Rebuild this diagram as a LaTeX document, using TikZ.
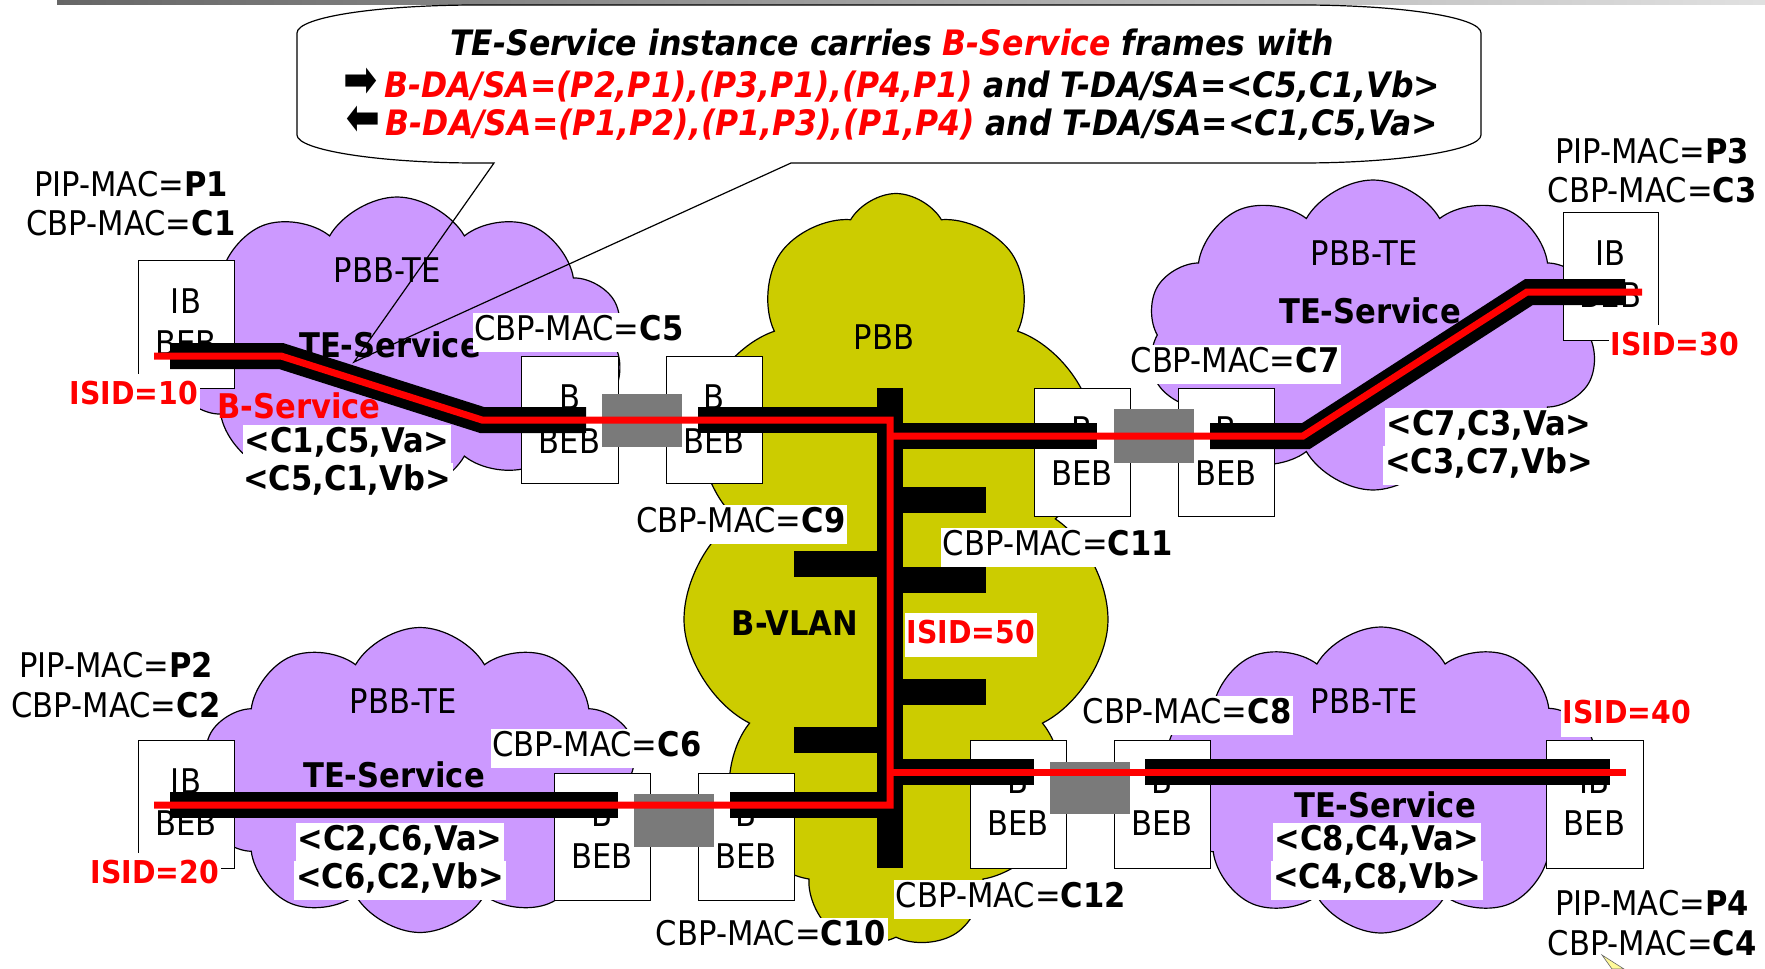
\documentclass[tikz,border=0pt]{standalone}
\usepackage{fontspec}
\setmainfont{DejaVu Sans}[FakeStretch=0.9]
\usepackage{graphicx}
\usetikzlibrary{shapes.symbols}
\definecolor{lav}{HTML}{CC99FF}
\definecolor{pbbc}{HTML}{CCCC00}
\definecolor{gbox}{HTML}{7A7A7A}
\definecolor{rd}{HTML}{FF0000}
\newcommand{\rarr}{{\upshape\mdseries\scalebox{1.3}[1.5]{➡}}}
\newcommand{\larr}{{\upshape\mdseries\reflectbox{\scalebox{1.3}[1.5]{➡}}}}
\begin{document}
\begin{tikzpicture}[x=1pt,y=-1pt,
  every node/.style={inner sep=0pt},
  cl/.style={cloud, cloud puffs=10, cloud puff arc=120, cloud ignores aspect, draw=black, line width=1.2pt, fill=lav},
  bx/.style={draw=black, line width=1pt, fill=white},
  lk/.style={fill=gbox, draw=none},
  t/.style={font=\fontsize{34}{40}\selectfont, anchor=base, inner xsep=2pt, inner ysep=0pt},
  tb/.style={t, font=\fontsize{34}{40}\selectfont\bfseries},
  wt/.style={t, fill=white, text height=27pt, text depth=11pt, inner ysep=0.5pt},
  wtb/.style={wt, font=\fontsize{34}{40}\selectfont\bfseries},
  isid/.style={wt, text=rd, font=\fontsize{31.5}{38}\selectfont\bfseries, inner ysep=3pt},
  ct/.style={font=\fontsize{35}{40}\selectfont\bfseries\itshape, anchor=base},
  bar/.style={line width=26pt, black, line join=miter},
  redl/.style={line width=7pt, rd, line join=miter},
]
\useasboundingbox (0,0) rectangle (1765,969);
\shade[left color=black!60, right color=black!12] (57,0) rectangle (1765,4);

% clouds
\node[cl, fill=pbbc, cloud puffs=11, minimum width=428pt, minimum height=755pt] (cPBB) at (896,571) {};
\node[cl, minimum width=456pt, minimum height=298pt] (cTL) at (397,346) {};
\node[cl, minimum width=454pt, minimum height=310pt] (cTR) at (1373,335) {};
\node[cl, minimum width=440pt, minimum height=305pt] (cBL) at (420,780) {};
\node[cl, minimum width=438pt, minimum height=306pt] (cBR) at (1381,780) {};

% boxes
\node[bx, minimum width=96pt, minimum height=128pt] (bP1) at (186,324) {};
\node[bx, minimum width=97pt, minimum height=127pt] (bC5L) at (569.5,419.5) {};
\node[bx, minimum width=96pt, minimum height=127pt] (bC5R) at (714,419.5) {};
\node[bx, minimum width=96pt, minimum height=128pt] (bC7L) at (1082,452) {};
\node[bx, minimum width=96pt, minimum height=128pt] (bC7R) at (1226,452) {};
\node[bx, minimum width=95pt, minimum height=128pt] (bP3) at (1610.5,276) {};
\node[bx, minimum width=96pt, minimum height=128pt] (bP2) at (186,804) {};
\node[bx, minimum width=96pt, minimum height=127pt] (bC6L) at (602,836.5) {};
\node[bx, minimum width=96pt, minimum height=127pt] (bC6R) at (746,836.5) {};
\node[bx, minimum width=96pt, minimum height=128pt] (bC8L) at (1018,804) {};
\node[bx, minimum width=96pt, minimum height=128pt] (bC8R) at (1162,804) {};
\node[bx, minimum width=97pt, minimum height=128pt] (bP4) at (1594.5,804) {};

% box texts
\node[t] (xP1a) at (186,313) {IB};   \node[t] (xP1b) at (186,355) {BEB};
\node[t] (xC5La) at (569.5,409) {B}; \node[t] (xC5Lb) at (569.5,453) {BEB};
\node[t] (xC5Ra) at (714,409) {B};   \node[t] (xC5Rb) at (714,453) {BEB};
\node[t] (xC7La) at (1082,441) {B};  \node[t] (xC7Lb) at (1082,485) {BEB};
\node[t] (xC7Ra) at (1226,441) {B};  \node[t] (xC7Rb) at (1226,485) {BEB};
\node[t] (xP3a) at (1610.5,265) {IB}; \node[t] (xP3b) at (1610.5,307) {BEB};
\node[t] (xP2a) at (186,793) {IB};   \node[t] (xP2b) at (186,835) {BEB};
\node[t] (xC6La) at (602,826) {B};   \node[t] (xC6Lb) at (602,868) {BEB};
\node[t] (xC6Ra) at (746,826) {B};   \node[t] (xC6Rb) at (746,868) {BEB};
\node[t] (xC8La) at (1018,793) {B};  \node[t] (xC8Lb) at (1018,835) {BEB};
\node[t] (xC8Ra) at (1162,793) {B};  \node[t] (xC8Rb) at (1162,835) {BEB};
\node[t] (xP4a) at (1594.5,793) {IB}; \node[t] (xP4b) at (1594.5,835) {BEB};

% links
\node[lk, minimum width=80pt, minimum height=53pt] (g1) at (642,420.5) {};
\node[lk, minimum width=80pt, minimum height=54pt] (g2) at (1154,436) {};
\node[lk, minimum width=80pt, minimum height=53pt] (g3) at (674,820.5) {};
\node[lk, minimum width=80pt, minimum height=52pt] (g4) at (1090,788) {};

% labels
\node[t] (lP1) at (131,196) {PIP-MAC=\textbf{P1}};
\node[t] (lC1) at (131,235) {CBP-MAC=\textbf{C1}};
\node[t] (lTL1) at (387,282) {PBB-TE};
\node[tb] (lTL2) at (390,357) {TE-Service};
\node[wt] (lC5) at (579,340) {CBP-MAC=\textbf{C5}};
\node[isid] (i10) at (134,404) {ISID=10};
\node[tb, text=rd] (lBS) at (299,418) {B-Service};
\node[wtb] (lTL3) at (347,452) {<C1,C5,Va>};
\node[wtb] (lTL4) at (347,490) {<C5,C1,Vb>};
\node[t] (lPBB) at (884,349) {PBB};
\node[wt] (lC9) at (741,532) {CBP-MAC=\textbf{C9}};
\node[tb] (lBV) at (795,635) {B-VLAN};
\node[isid] (i50) at (971,643) {ISID=50};
\node[wt] (lC11) at (1058,555) {CBP-MAC=\textbf{C11}};
\node[wt] (lC7) at (1235,372) {CBP-MAC=\textbf{C7}};
\node[t] (lTR1) at (1364,265) {PBB-TE};
\node[tb] (lTR2) at (1370,323) {TE-Service};
\node[t] (lP3) at (1652,163) {PIP-MAC=\textbf{P3}};
\node[t] (lC3) at (1652,202) {CBP-MAC=\textbf{C3}};
\node[isid] (i30) at (1675,355) {ISID=30};
\node[wtb] (lTR3) at (1489,435) {<C7,C3,Va>};
\node[wtb] (lTR4) at (1489,473) {<C3,C7,Vb>};
\node[t] (lP2) at (116,677) {PIP-MAC=\textbf{P2}};
\node[t] (lC2) at (116,717) {CBP-MAC=\textbf{C2}};
\node[t] (lBL1) at (403,713) {PBB-TE};
\node[wt] (lC6) at (597,756) {CBP-MAC=\textbf{C6}};
\node[tb] (lBL2) at (394,787) {TE-Service};
\node[isid] (i20) at (155,883) {ISID=20};
\node[wtb] (lBL3) at (400,850) {<C2,C6,Va>};
\node[wtb] (lBL4) at (400,888) {<C6,C2,Vb>};
\node[wt] (lC10) at (771,945) {CBP-MAC=\textbf{C10}};
\node[wt] (lC12) at (1011,907) {CBP-MAC=\textbf{C12}};
\node[wt] (lC8) at (1187,723) {CBP-MAC=\textbf{C8}};
\node[t] (lBR1) at (1364,713) {PBB-TE};
\node[isid] (i40) at (1627,723) {ISID=40};
\node[tb] (lBR2) at (1385,817) {TE-Service};
\node[wtb] (lBR3) at (1377,850) {<C8,C4,Va>};
\node[wtb] (lBR4) at (1377,888) {<C4,C8,Vb>};
\node[t] (lP4) at (1652,915) {PIP-MAC=\textbf{P4}};
\node[t] (lC4) at (1652,955) {CBP-MAC=\textbf{C4}};

% black bars
\draw[bar] (170,356) -- (281,356) -- (482,420) -- (586,420);
\draw[bar] (698,420) -- (890,420);
\draw[bar] (890,388) -- (890,868);
\draw[bar] (890,436) -- (1097,436);
\draw[bar] (1210,436) -- (1306,436) -- (1529,292) -- (1625,292);
\draw[bar] (170,805) -- (618,805);
\draw[bar] (730,805) -- (890,805);
\draw[bar] (890,772) -- (1034,772);
\draw[bar] (1145,772) -- (1610,772);
\draw[bar] (903,500) -- (986,500);
\draw[bar] (794,564) -- (877,564);
\draw[bar] (903,580) -- (986,580);
\draw[bar] (903,692) -- (986,692);
\draw[bar] (794,740) -- (877,740);

% red lines
\draw[redl] (154,356) -- (281,356) -- (482,420) -- (890,420) -- (890,805) -- (154,805);
\draw[redl] (890,436) -- (1303,436) -- (1527,292) -- (1642,292);
\draw[redl] (890,772) -- (1626,772);

% callout
\draw[line width=1.2pt] (494,163) -- (477,163) .. controls (378,163) and (297,150) .. (297,135) -- (297,33) .. controls (297,17) and (378,5) .. (477,5) -- (1301,5) .. controls (1400,5) and (1481,17) .. (1481,33) -- (1481,135) .. controls (1481,150) and (1400,163) .. (1301,163) -- (791,163) -- (354,362) -- cycle;
\node[ct] (k1) at (892,55) {TE-Service instance carries \textcolor{rd}{B-Service} frames with};
\node[ct] (k2) at (892,97) {\rarr\,\textcolor{rd}{B-DA/SA=(P2,P1),(P3,P1),(P4,P1)} and T-DA/SA=<C5,C1,Vb>};
\node[ct] (k3) at (892,135) {\larr\,\textcolor{rd}{B-DA/SA=(P1,P2),(P1,P3),(P1,P4)} and T-DA/SA=<C1,C5,Va>};

\filldraw[fill=yellow!40, draw=black!60, line width=0.6pt] (1602,955) -- (1612,969) -- (1624,969) -- cycle;
\end{tikzpicture}
\end{document}
